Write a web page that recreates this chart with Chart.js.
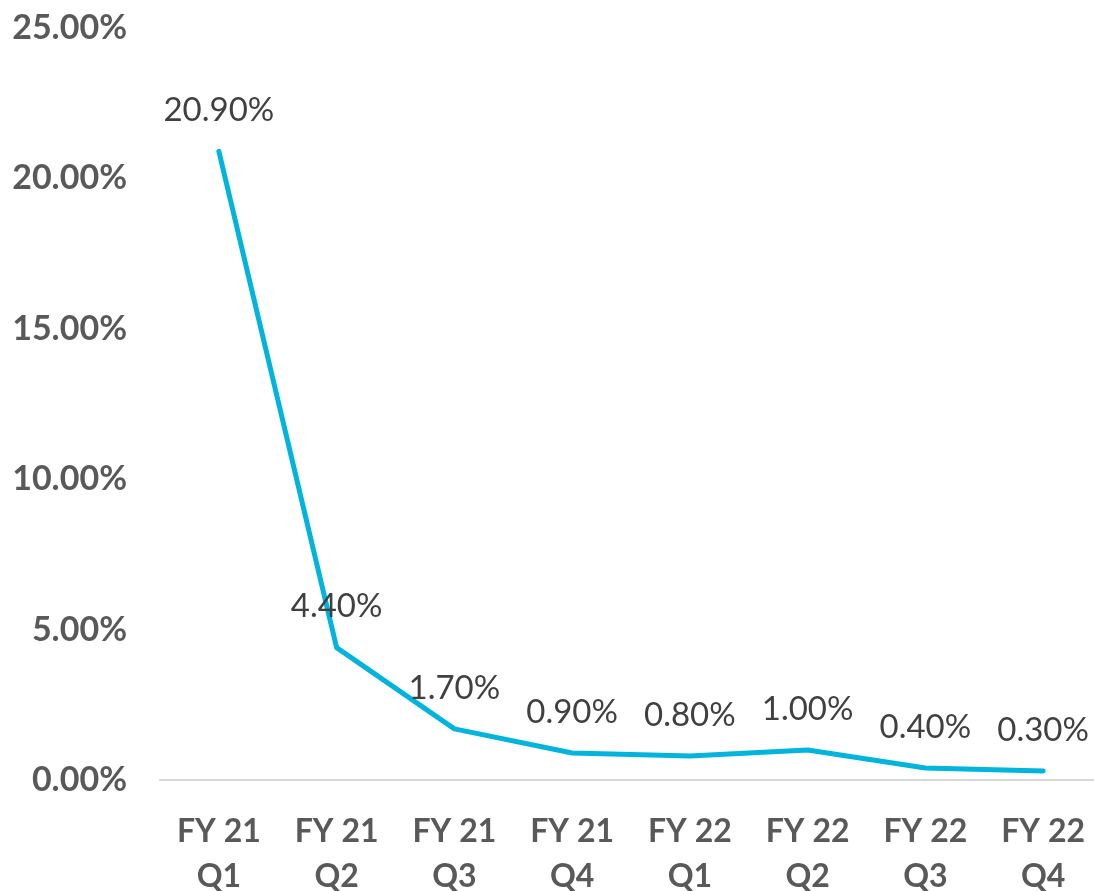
<!DOCTYPE html>
<html>
<head>
<meta charset="utf-8">
<script src="https://cdn.jsdelivr.net/npm/chart.js@4"></script>
<style>
  html, body { margin: 0; padding: 0; background: #fff; overflow: hidden; }
  canvas { display: block; }
</style>
</head>
<body>
<canvas id="c" width="1102" height="891"></canvas>
<script>
// Quarterly rate, in percent
const categories = [
  ['FY 21', 'Q1'], ['FY 21', 'Q2'], ['FY 21', 'Q3'], ['FY 21', 'Q4'],
  ['FY 22', 'Q1'], ['FY 22', 'Q2'], ['FY 22', 'Q3'], ['FY 22', 'Q4']
];
const rateValues = [20.9, 4.4, 1.7, 0.9, 0.8, 1.0, 0.4, 0.3];
const yTicks = [0, 5, 10, 15, 20, 25];

const fontFamily = 'Lato, "Open Sans", "DejaVu Sans", sans-serif';

// Draws the value label above each point of the line
const valueLabels = {
  id: 'valueLabels',
  afterDatasetsDraw(chart) {
    const ctx = chart.ctx;
    const meta = chart.getDatasetMeta(0);
    ctx.save();
    ctx.font = '33px ' + fontFamily;
    ctx.fillStyle = '#404040';
    ctx.textAlign = 'center';
    ctx.textBaseline = 'middle';
    meta.data.forEach((pt, i) => {
      const v = chart.data.datasets[0].data[i];
      ctx.fillText(v.toFixed(2) + '%', pt.x, pt.y - 41);
    });
    ctx.restore();
  }
};

new Chart(document.getElementById('c'), {
  type: 'line',
  data: {
    labels: categories,
    datasets: [{
      data: rateValues,
      borderColor: '#00B4DC',
      borderWidth: 5,
      pointRadius: 0,
      tension: 0,
      borderJoinStyle: 'round',
      borderCapStyle: 'round'
    }]
  },
  options: {
    responsive: false,
    animation: false,
    layout: { padding: { top: 28, left: 0, right: 0, bottom: 0 } },
    plugins: { legend: { display: false }, tooltip: { enabled: false } },
    scales: {
      x: {
        offset: true,
        grid: { display: false, drawTicks: false },
        border: { display: true, color: '#D9D9D9', width: 2 },
        ticks: {
          color: '#595959',
          padding: 30,
          maxRotation: 0,
          font: { family: fontFamily, size: 32, weight: 'bold', lineHeight: 1.38 }
        },
        afterFit(scale) {
          scale.height = 111;
          scale.paddingLeft = 0;
          scale.paddingRight = 0;
        }
      },
      y: {
        min: 0,
        max: 25,
        afterBuildTicks(scale) { scale.ticks = yTicks.map(v => ({ value: v })); },
        grid: { display: false, drawTicks: false },
        border: { display: false },
        ticks: {
          color: '#595959',
          padding: 33,
          font: { family: fontFamily, size: 34, weight: 'bold' },
          callback: v => v.toFixed(2) + '%'
        },
        afterFit(scale) {
          scale.width = 160;
          scale.paddingTop = 0;
          scale.paddingBottom = 0;
        }
      }
    }
  },
  plugins: [valueLabels]
});
</script>
</body>
</html>
